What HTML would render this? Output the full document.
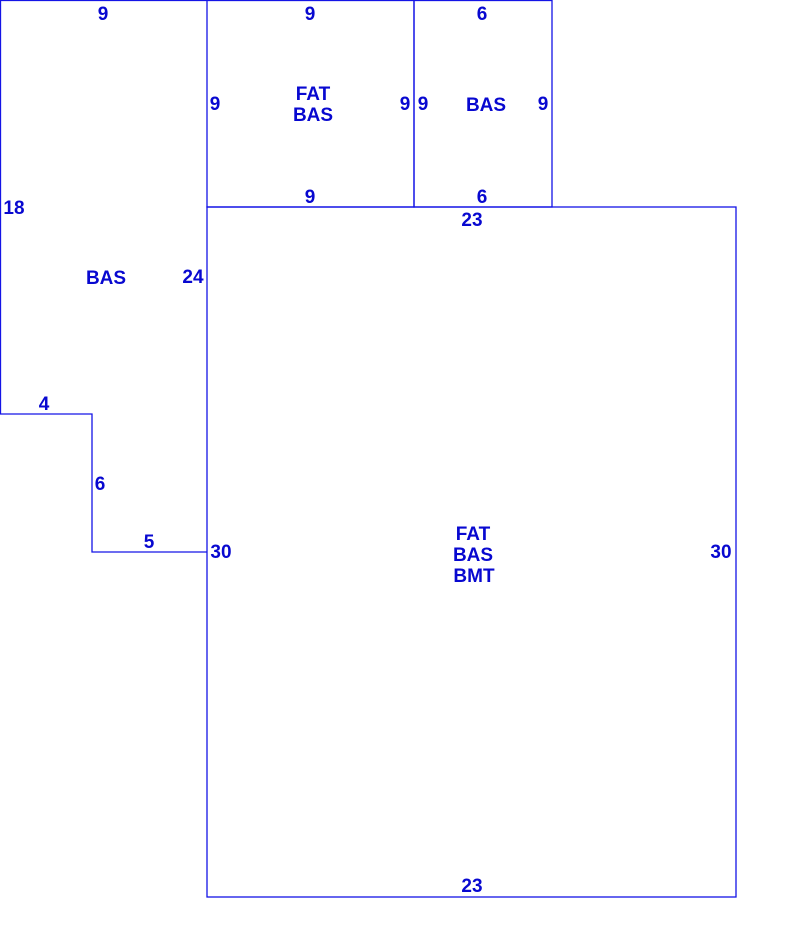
<!DOCTYPE html>
<html><head><style>
html,body{margin:0;padding:0;background:#fff;}
svg{display:block;}
text{font-family:"Liberation Sans",sans-serif;font-size:19px;font-weight:bold;fill:#0808d0;text-anchor:middle;}
</style></head><body>
<svg width="787" height="930" viewBox="0 0 787 930">
<g stroke="#1414e6" stroke-width="1.3" fill="none">
<polyline points="207,0.5 0.5,0.5 0.5,414 92,414 92,552 207,552"/>
<rect x="207" y="0.5" width="207" height="206.5"/>
<rect x="414" y="0.5" width="138" height="206.5"/>
<rect x="207" y="207" width="529" height="690"/>
</g>
<text x="103" y="20">9</text>
<text x="310" y="20">9</text>
<text x="482" y="20">6</text>
<text x="215" y="110">9</text>
<text x="405" y="110">9</text>
<text x="423" y="110">9</text>
<text x="543" y="110">9</text>
<text x="313" y="100">FAT</text>
<text x="313" y="121">BAS</text>
<text x="486" y="111">BAS</text>
<text x="310" y="203">9</text>
<text x="482" y="203">6</text>
<text x="472" y="226">23</text>
<text x="14" y="214">18</text>
<text x="106" y="284">BAS</text>
<text x="193" y="283">24</text>
<text x="44" y="410">4</text>
<text x="100" y="490">6</text>
<text x="149" y="548">5</text>
<text x="221" y="558">30</text>
<text x="721" y="558">30</text>
<text x="473" y="540">FAT</text>
<text x="473" y="561">BAS</text>
<text x="474" y="582">BMT</text>
<text x="472" y="892">23</text>
</svg>
</body></html>
